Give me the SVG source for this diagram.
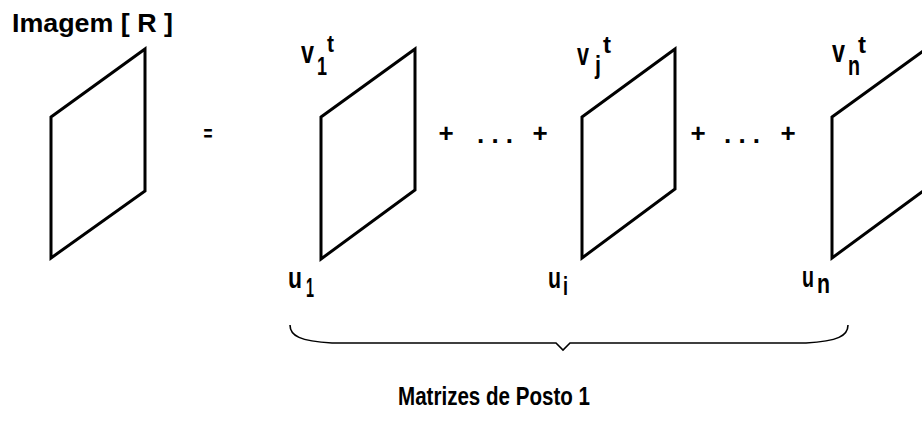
<svg xmlns="http://www.w3.org/2000/svg" width="922" height="429" viewBox="0 0 922 429">
<style>
.pg{fill:#fff;stroke:#000;stroke-width:3;stroke-linejoin:miter}
.t{font-family:"Liberation Sans",Arial,sans-serif;font-weight:bold;fill:#000}
.br{fill:none;stroke:#000;stroke-width:1.6}
.op{font-size:26px}
</style>
<rect width="922" height="429" fill="#fff"/>
<g id="title"><text class="t" x="12" y="32" font-size="26" textLength="161" lengthAdjust="spacingAndGlyphs">Imagem [ R ]</text></g>
<g id="imagem"><polygon class="pg" points="51,117 145,49 145,191 51,258"/></g>
<g id="eq"><text class="t" x="208" y="141" font-size="22" text-anchor="middle" textLength="9" lengthAdjust="spacingAndGlyphs">=</text></g>
<g id="m1">
<polygon class="pg" points="321,117 415,49 415,190 321,259"/>
<text class="t"><tspan x="301" y="63" font-size="32" textLength="13" lengthAdjust="spacingAndGlyphs">v</tspan><tspan x="317" y="75" font-size="25" textLength="10" lengthAdjust="spacingAndGlyphs">1</tspan><tspan x="327" y="52" font-size="24" textLength="7" lengthAdjust="spacingAndGlyphs">t</tspan></text>
<text class="t"><tspan x="288" y="288" font-size="29" textLength="14" lengthAdjust="spacingAndGlyphs">u</tspan><tspan x="306" y="297" font-size="27" textLength="8" lengthAdjust="spacingAndGlyphs">1</tspan></text>
</g>
<g id="op1">
<text class="t op" x="446" y="142" text-anchor="middle">+</text>
<text class="t op" x="495" y="143" text-anchor="middle">. . .</text>
<text class="t op" x="540" y="142" text-anchor="middle">+</text>
</g>
<g id="mj">
<polygon class="pg" points="582,117 675,49 675,189 582,258"/>
<text class="t"><tspan x="577" y="65" font-size="32" textLength="12" lengthAdjust="spacingAndGlyphs">v</tspan><tspan x="595" y="74" font-size="26" textLength="6" lengthAdjust="spacingAndGlyphs">j</tspan><tspan x="603" y="53" font-size="24" textLength="8" lengthAdjust="spacingAndGlyphs">t</tspan></text>
<text class="t"><tspan x="548" y="288" font-size="29" textLength="13" lengthAdjust="spacingAndGlyphs">u</tspan><tspan x="563" y="295" font-size="26" textLength="5" lengthAdjust="spacingAndGlyphs">i</tspan></text>
</g>
<g id="op2">
<text class="t op" x="698" y="142" text-anchor="middle">+</text>
<text class="t op" x="742" y="143" text-anchor="middle">. . .</text>
<text class="t op" x="788" y="142" text-anchor="middle">+</text>
</g>
<g id="mn">
<polygon class="pg" points="832,117 926,49 926,189 832,258"/>
<text class="t"><tspan x="832" y="62" font-size="32" textLength="13" lengthAdjust="spacingAndGlyphs">v</tspan><tspan x="848" y="75" font-size="28" textLength="12" lengthAdjust="spacingAndGlyphs">n</tspan><tspan x="858" y="53" font-size="24" textLength="8" lengthAdjust="spacingAndGlyphs">t</tspan></text>
<text class="t"><tspan x="802" y="287" font-size="29" textLength="12" lengthAdjust="spacingAndGlyphs">u</tspan><tspan x="817" y="293" font-size="28" textLength="13" lengthAdjust="spacingAndGlyphs">n</tspan></text>
</g>
<g id="connectors">
<path class="br" d="M290,325 C290,336 300,341 332,343 L556,343 L563,350 L570,343 L806,343 C838,341 848,336 848,325"/>
</g>
<g id="caption"><text class="t" x="398" y="405" font-size="26" textLength="192" lengthAdjust="spacingAndGlyphs">Matrizes de Posto 1</text></g>
</svg>
